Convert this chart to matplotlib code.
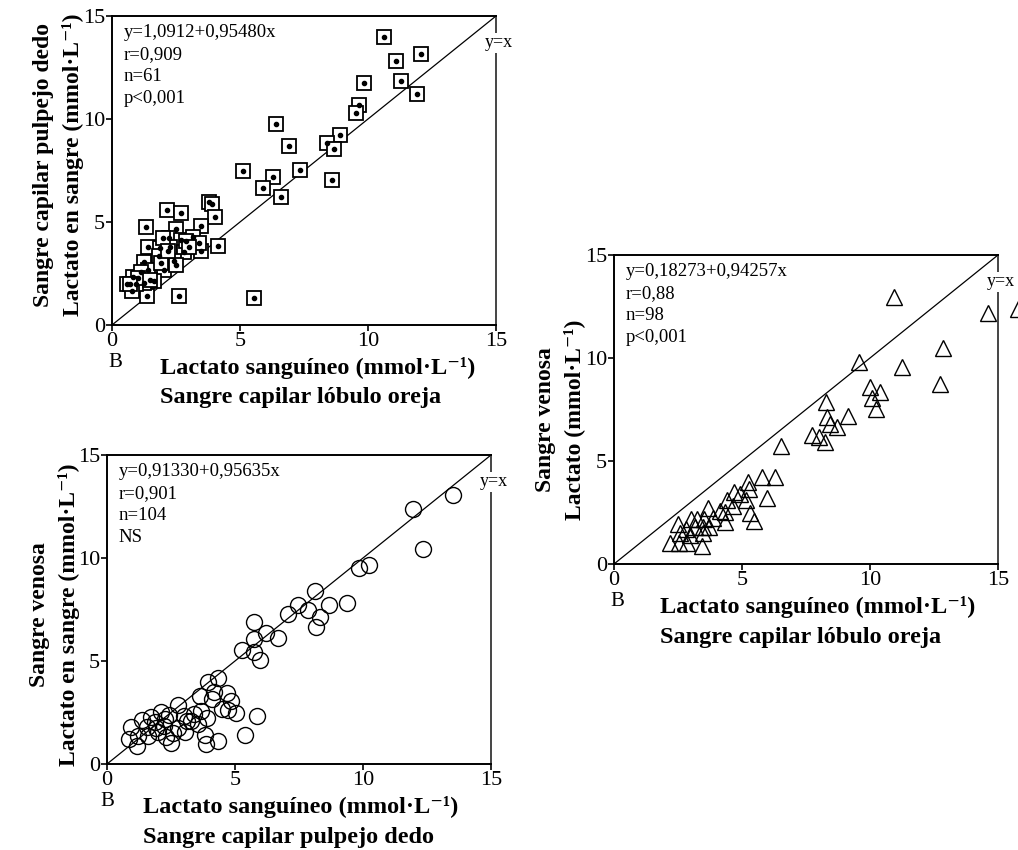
import matplotlib
matplotlib.use("Agg")
import matplotlib.pyplot as plt
import numpy as np

plt.rcParams["font.family"] = ["Liberation Serif", "DejaVu Serif"]

# panel A: capilar lobulo oreja (x) vs capilar pulpejo dedo (y)
a_x = [10.63, 11.09, 12.07, 11.29, 11.91, 9.84, 9.65, 9.53, 6.41, 6.91, 8.91, 8.40, 8.67,
       5.12, 6.29, 7.34, 8.59, 5.90, 6.60, 5.55, 2.62, 1.37,
       1.33, 2.15, 2.70, 3.80, 3.91, 4.02, 3.48, 2.50, 2.23, 2.70, 3.16, 1.41, 1.88, 2.27,
       2.81, 3.48, 4.14, 1.84, 2.42, 1.25, 1.41, 2.03, 0.82, 1.13, 1.64, 1.25, 0.59, 0.94,
       0.78, 2.00, 2.90, 3.40, 1.90, 2.50, 1.00, 1.50, 2.20, 3.00, 0.70]
a_y = [13.98, 12.82, 13.16, 11.84, 11.21, 11.75, 10.68, 10.29, 9.76, 8.69, 9.22, 8.83, 8.54,
       7.48, 7.18, 7.52, 7.04, 6.65, 6.21, 1.31, 1.41, 1.41,
       4.76, 5.58, 5.44, 5.95, 5.87, 5.24, 4.81, 4.66, 4.22, 4.12, 4.27, 3.79, 3.74, 3.79,
       3.54, 3.59, 3.83, 3.35, 3.11, 3.06, 2.67, 2.67, 2.33, 2.57, 2.14, 2.04, 1.99, 1.99,
       1.65, 4.20, 4.10, 4.00, 3.00, 2.90, 2.30, 2.20, 3.60, 3.80, 2.00]

# panel C: capilar pulpejo dedo (x) vs venosa (y)
c_x = [13.52, 11.95, 12.34, 9.84, 10.23, 8.13, 7.46, 7.85, 8.67, 9.38, 7.07, 8.32, 8.16,
       5.74, 5.74, 6.21, 6.68, 5.29, 5.74, 5.99, 3.96, 4.35, 4.18, 4.69, 3.63, 4.09, 4.84,
       4.51, 4.71, 5.05, 5.86, 2.79, 3.01, 3.41, 3.66, 3.89, 3.57, 3.11, 2.10, 1.71, 1.37,
       0.94, 1.20, 0.87, 1.17, 1.59, 1.91, 2.27, 2.24, 2.00, 2.32, 2.59, 2.49, 2.76, 3.05,
       3.28, 3.83, 3.85, 4.34, 5.38, 2.42, 1.89, 1.55]
c_y = [13.06, 12.38, 10.44, 9.51, 9.66, 8.40, 7.72, 7.48, 7.72, 7.82, 7.28, 7.14, 6.65,
       6.89, 6.05, 6.34, 6.13, 5.53, 5.42, 5.05, 3.96, 4.16, 3.50, 3.43, 3.29, 3.14, 3.06,
       2.65, 2.62, 2.48, 2.33, 2.86, 2.33, 2.41, 2.57, 2.25, 1.94, 2.09, 2.51, 2.27, 2.12,
       1.81, 1.36, 1.23, 0.89, 1.37, 1.73, 2.18, 1.84, 1.54, 1.31, 1.52, 1.02, 1.76, 1.54,
       2.09, 1.39, 0.99, 1.13, 1.41, 2.38, 2.05, 1.81]

# panel B (right): capilar lobulo oreja (x) vs venosa (y)
b_x = [10.95, 14.62, 15.79, 12.84, 9.58, 11.26, 12.73, 10.00, 10.39, 10.09, 10.22, 8.27,
       9.13, 8.33, 8.44, 8.72, 8.24, 6.51, 7.72, 8.00, 5.79, 6.29, 5.99, 5.22,
       5.29, 5.15, 4.69, 4.92, 4.40, 4.66, 4.34, 3.68, 4.14, 5.31, 5.47, 4.34, 3.88, 3.52,
       3.25, 2.99, 2.51, 2.81, 3.16, 3.46, 3.72, 2.58, 2.97, 3.46, 2.19, 2.54, 2.84, 3.42]
b_y = [12.98, 12.17, 12.36, 10.47, 9.79, 9.55, 8.72, 8.61, 8.33, 8.04, 7.51, 7.88,
       7.20, 7.15, 6.78, 6.63, 5.94, 5.73, 6.26, 6.15, 4.24, 4.24, 3.22, 4.00,
       3.63, 3.10, 3.51, 3.40, 3.10, 2.80, 2.54, 2.70, 2.59, 2.46, 2.10, 2.05, 2.22, 2.17,
       2.17, 2.17, 1.94, 1.68, 1.78, 1.78, 1.78, 1.50, 1.42, 1.50, 1.03, 1.00, 1.03, 0.87]

a_stats = ["y=1,0912+0,95480x", "r=0,909", "n=61", "p<0,001"]
c_stats = ["y=0,91330+0,95635x", "r=0,901", "n=104", "NS"]
b_stats = ["y=0,18273+0,94257x", "r=0,88", "n=98", "p<0,001"]

ticks = [0, 5, 10, 15]
unit = "(mmol·L⁻¹)"

W, H = 1018, 850
fig = plt.figure(figsize=(W / 100, H / 100), dpi=100)


def make_axes(left_px, top_px):
    ax = fig.add_axes([left_px / W, 1 - (top_px + 309) / H, 384 / W, 309 / H])
    ax.set_xlim(0, 15)
    ax.set_ylim(0, 15)
    ax.set_xticks(ticks)
    ax.set_yticks(ticks)
    ax.tick_params(direction="out", length=4, width=1.2, labelsize=16, pad=1)
    for side in ["left", "bottom", "top"]:
        ax.spines[side].set_linewidth(1.4)
    ax.spines["right"].set_linestyle((0, (1, 1)))
    ax.spines["right"].set_color("#444444")
    ax.spines["right"].set_linewidth(1.4)
    ax.plot([0, 15], [0, 15], color="black", lw=0.9, zorder=1)
    ax.text(15.1, 13.7, "y=x", fontsize=13, ha="center", va="center", clip_on=False,
            bbox=dict(facecolor="white", edgecolor="none", pad=1), zorder=5)
    return ax


def stats_text(ax, lines):
    for i, line in enumerate(lines):
        ax.text(0.03, 0.945 - i * 0.071, line, transform=ax.transAxes, fontsize=13.5,
                ha="left", va="center")


def labels(left_px, top_px, xlab2, ylab1, ylab2, ylab_x, ylab_cy, b_px, xlab_px):
    fig.text(b_px / W, 1 - (top_px + 347) / H, "B", fontsize=15,
             ha="center", va="center")
    fig.text(xlab_px / W, 1 - (top_px + 352) / H,
             "Lactato sanguíneo " + unit, fontsize=17.5, fontweight="bold",
             ha="left", va="center")
    fig.text(xlab_px / W, 1 - (top_px + 382) / H, xlab2, fontsize=17.5,
             fontweight="bold", ha="left", va="center")
    fig.text(ylab_x / W, 1 - ylab_cy / H, ylab1, fontsize=17, fontweight="bold",
             rotation=90, ha="center", va="center")
    fig.text((ylab_x + 29) / W, 1 - ylab_cy / H, ylab2, fontsize=17,
             fontweight="bold", rotation=90, ha="center", va="center")


# panel A
ax_a = make_axes(112, 16)
ax_a.plot(a_x, a_y, "s", ms=10, mfc="white", mec="black", mew=1.3, zorder=3)
ax_a.plot(a_x, a_y, "o", ms=3, color="black", zorder=3)
stats_text(ax_a, a_stats)
labels(112, 16, "Sangre capilar lóbulo oreja", "Sangre capilar pulpejo dedo",
       "Lactato en sangre " + unit, 44, 165, 115, 160)

# panel C
ax_c = make_axes(107, 455)
ax_c.plot(c_x, c_y, "o", ms=11.5, mfc="none", mec="black", mew=1.0, zorder=3)
stats_text(ax_c, c_stats)
labels(107, 455, "Sangre capilar pulpejo dedo", "Sangre venosa",
       "Lactato en sangre " + unit, 40, 615, 107, 143)

# panel B (right)
ax_b = make_axes(614, 255)
ax_b.plot(b_x, b_y, "^", ms=11, mfc="none", mec="black", mew=1.0, zorder=3, clip_on=False)
stats_text(ax_b, b_stats)
labels(614, 255, "Sangre capilar lóbulo oreja", "Sangre venosa",
       "Lactato " + unit, 545, 420, 617, 660)

fig.savefig("out.png", dpi=100)
